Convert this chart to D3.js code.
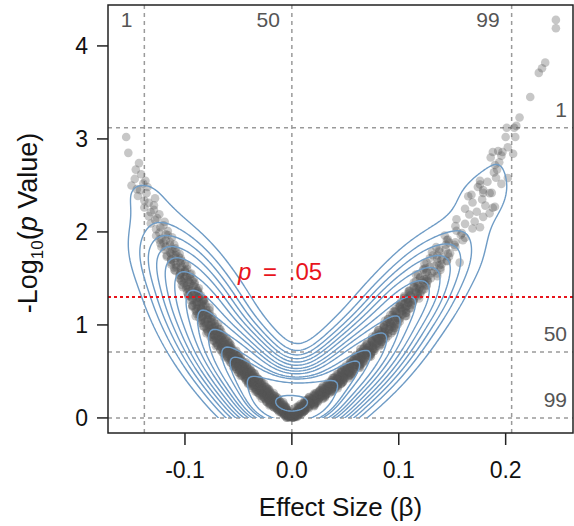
<!DOCTYPE html>
<html><head><meta charset="utf-8">
<script src="https://cdn.jsdelivr.net/npm/d3@7"></script>
<style>body{margin:0;background:#fff}svg{display:block}text{font-family:"Liberation Sans",Arial,Helvetica,sans-serif}</style>
</head><body><svg id="c" width="574" height="526"></svg>
<script>
// ---- data (effect size beta, -log10 p) ----
const xTicks = [-0.1, 0.0, 0.1, 0.2];
const xTickLabels = ["-0.1", "0.0", "0.1", "0.2"];
const yTicks = [0, 1, 2, 3, 4];
const pctX = [{v: -0.138, label: "1"}, {v: 0.0, label: "50"}, {v: 0.2056, label: "99"}];
const pctY = [{v: 3.12, label: "1"}, {v: 0.71, label: "50"}, {v: 0.0, label: "99"}];
const pThreshold = 1.301; // -log10(.05)
// tip of each density contour on the left branch (beta, -log10 p)
const contourTipsLeft = [[-0.141,2.50],[-0.126,2.10],[-0.120,1.96],[-0.116,1.84],[-0.110,1.72],[-0.103,1.57],[-0.094,1.37],[-0.084,1.16],[-0.074,0.95],[-0.062,0.76],[-0.055,0.65],[-0.039,0.44],[-0.015,0.16]];

const leftArm = [
[-0.005,0.002],[0.001,0.006],[-0.002,0.010],[0.003,0.014],[-0.004,0.018],[-0.002,0.022],[0.000,0.026],[-0.007,0.030],[0.001,0.034],[-0.004,0.038],[-0.003,0.042],[-0.008,0.046],[-0.002,0.050],[-0.007,0.054],[-0.005,0.058],[-0.010,0.062],[-0.004,0.066],[-0.007,0.070],[-0.009,0.074],[-0.003,0.078],[-0.013,0.082],[-0.007,0.086],[-0.010,0.090],[-0.005,0.094],
[-0.014,0.102],[-0.010,0.107],[-0.006,0.111],[-0.017,0.116],[-0.005,0.120],[-0.013,0.125],[-0.011,0.129],[-0.018,0.134],[-0.007,0.138],[-0.016,0.143],[-0.012,0.147],[-0.021,0.152],[-0.011,0.156],[-0.015,0.161],[-0.019,0.165],[-0.008,0.170],[-0.024,0.174],[-0.014,0.179],[-0.019,0.183],[-0.012,0.188],[-0.022,0.192],[-0.018,0.197],
[-0.014,0.202],[-0.025,0.207],[-0.013,0.212],[-0.021,0.217],[-0.019,0.222],[-0.026,0.227],[-0.016,0.232],[-0.024,0.237],[-0.021,0.242],[-0.029,0.247],[-0.019,0.252],[-0.024,0.257],[-0.027,0.262],[-0.017,0.267],[-0.032,0.272],[-0.023,0.277],[-0.028,0.282],[-0.021,0.287],[-0.031,0.292],[-0.027,0.297],
[-0.023,0.302],[-0.034,0.307],[-0.022,0.313],[-0.030,0.318],[-0.028,0.323],[-0.035,0.328],[-0.025,0.334],[-0.033,0.339],[-0.030,0.344],[-0.038,0.349],[-0.028,0.355],[-0.033,0.360],[-0.036,0.365],[-0.026,0.370],[-0.041,0.376],[-0.032,0.381],[-0.037,0.386],[-0.029,0.391],[-0.040,0.397],
[-0.035,0.403],[-0.031,0.408],[-0.043,0.414],[-0.031,0.419],[-0.039,0.425],[-0.036,0.431],[-0.044,0.436],[-0.033,0.442],[-0.042,0.447],[-0.038,0.453],[-0.047,0.458],[-0.037,0.464],[-0.042,0.469],[-0.045,0.475],[-0.035,0.481],[-0.050,0.486],[-0.040,0.492],[-0.046,0.497],
[-0.038,0.503],[-0.049,0.509],[-0.044,0.515],[-0.040,0.521],[-0.052,0.527],[-0.039,0.532],[-0.048,0.538],[-0.045,0.544],[-0.053,0.550],[-0.042,0.556],[-0.050,0.562],[-0.047,0.568],[-0.055,0.574],[-0.046,0.579],[-0.050,0.585],[-0.054,0.591],[-0.043,0.597],
[-0.058,0.603],[-0.049,0.609],[-0.054,0.616],[-0.047,0.622],[-0.057,0.628],[-0.052,0.634],[-0.049,0.641],[-0.060,0.647],[-0.048,0.653],[-0.056,0.659],[-0.054,0.666],[-0.061,0.672],[-0.050,0.678],[-0.059,0.684],[-0.055,0.691],[-0.064,0.697],
[-0.054,0.703],[-0.059,0.710],[-0.062,0.717],[-0.052,0.723],[-0.067,0.730],[-0.058,0.737],[-0.063,0.743],[-0.056,0.750],[-0.066,0.757],[-0.061,0.763],[-0.058,0.770],[-0.069,0.777],[-0.057,0.783],[-0.065,0.790],[-0.063,0.797],
[-0.070,0.804],[-0.059,0.811],[-0.068,0.818],[-0.064,0.825],[-0.073,0.832],[-0.063,0.839],[-0.068,0.846],[-0.071,0.854],[-0.061,0.861],[-0.076,0.868],[-0.067,0.875],[-0.072,0.882],[-0.064,0.889],[-0.075,0.896],
[-0.070,0.904],[-0.067,0.912],[-0.078,0.919],[-0.066,0.927],[-0.074,0.935],[-0.072,0.942],[-0.079,0.950],[-0.068,0.958],[-0.077,0.965],[-0.073,0.973],[-0.082,0.981],[-0.072,0.988],[-0.077,0.996],
[-0.080,1.004],[-0.069,1.013],[-0.085,1.021],[-0.075,1.029],[-0.081,1.038],[-0.073,1.046],[-0.084,1.054],[-0.079,1.063],[-0.076,1.071],[-0.087,1.079],[-0.074,1.088],[-0.083,1.096],
[-0.080,1.105],[-0.087,1.114],[-0.077,1.123],[-0.085,1.132],[-0.082,1.141],[-0.090,1.150],[-0.080,1.159],[-0.085,1.168],[-0.088,1.177],[-0.077,1.186],[-0.093,1.195],
[-0.083,1.205],[-0.089,1.215],[-0.081,1.225],[-0.091,1.235],[-0.087,1.245],[-0.083,1.255],[-0.095,1.265],[-0.082,1.275],[-0.090,1.285],[-0.088,1.295],
[-0.095,1.306],[-0.085,1.317],[-0.093,1.328],[-0.090,1.339],[-0.098,1.350],[-0.089,1.361],[-0.093,1.372],[-0.097,1.383],[-0.087,1.394],
[-0.102,1.406],[-0.092,1.417],[-0.098,1.428],[-0.091,1.439],[-0.101,1.450],[-0.096,1.461],[-0.093,1.472],[-0.104,1.483],[-0.092,1.494],
[-0.100,1.506],[-0.098,1.519],[-0.105,1.531],[-0.095,1.544],[-0.104,1.556],[-0.100,1.569],[-0.109,1.581],[-0.100,1.594],
[-0.104,1.607],[-0.108,1.621],[-0.098,1.636],[-0.113,1.650],[-0.104,1.664],[-0.110,1.679],[-0.103,1.693],
[-0.113,1.707],[-0.109,1.721],[-0.106,1.736],[-0.117,1.750],[-0.105,1.764],[-0.114,1.779],[-0.112,1.793],
[-0.119,1.808],[-0.109,1.825],[-0.118,1.842],[-0.114,1.858],[-0.123,1.875],[-0.114,1.892],
[-0.118,1.908],[-0.122,1.925],[-0.112,1.942],[-0.127,1.958],[-0.118,1.975],[-0.124,1.992],
[-0.116,2.010],[-0.127,2.030],[-0.123,2.050],[-0.120,2.070],[-0.132,2.090],
[-0.119,2.110],[-0.128,2.130],[-0.126,2.150],[-0.134,2.170],[-0.124,2.190],
[-0.132,2.212],[-0.129,2.237],[-0.138,2.262],[-0.129,2.287],
[-0.134,2.312],[-0.138,2.337],[-0.128,2.362],[-0.144,2.387],
[-0.136,2.417],[-0.142,2.450],[-0.135,2.483]
];
// heavily overlapping points of the dark band, left side
const leftArmDense = [
[0.002,0.002],[-0.005,0.005],[0.000,0.008],[-0.002,0.012],[0.002,0.015],[-0.005,0.018],[-0.002,0.022],[0.001,0.025],[-0.007,0.028],[-0.002,0.032],[-0.005,0.035],[0.000,0.038],[-0.007,0.042],[-0.003,0.045],[-0.009,0.048],[-0.004,0.052],[-0.003,0.055],[-0.007,0.058],[-0.008,0.062],[-0.012,0.065],[-0.004,0.068],[-0.011,0.072],[-0.007,0.075],[-0.009,0.078],[-0.004,0.082],[-0.012,0.085],[-0.009,0.088],[-0.005,0.092],[-0.014,0.095],[-0.009,0.098],
[-0.011,0.102],[-0.005,0.106],[-0.015,0.109],[-0.008,0.113],[-0.017,0.116],[-0.011,0.120],[-0.007,0.124],[-0.014,0.127],[-0.016,0.131],[-0.021,0.134],[-0.009,0.138],[-0.020,0.142],[-0.012,0.145],[-0.016,0.149],[-0.008,0.152],[-0.020,0.156],[-0.015,0.160],[-0.010,0.163],[-0.023,0.167],[-0.014,0.170],[-0.018,0.174],[-0.011,0.178],[-0.021,0.181],[-0.015,0.185],[-0.024,0.188],[-0.017,0.192],[-0.014,0.196],[-0.021,0.199],
[-0.022,0.202],[-0.028,0.206],[-0.016,0.210],[-0.026,0.214],[-0.019,0.217],[-0.023,0.221],[-0.014,0.225],[-0.027,0.229],[-0.022,0.233],[-0.016,0.237],[-0.030,0.240],[-0.021,0.244],[-0.024,0.248],[-0.018,0.252],[-0.028,0.256],[-0.021,0.260],[-0.031,0.264],[-0.024,0.267],[-0.020,0.271],[-0.028,0.275],[-0.029,0.279],[-0.034,0.283],[-0.023,0.287],[-0.033,0.290],[-0.025,0.294],[-0.030,0.298],
[-0.021,0.302],[-0.033,0.306],[-0.029,0.310],[-0.023,0.315],[-0.037,0.319],[-0.028,0.323],[-0.031,0.327],[-0.024,0.331],[-0.035,0.336],[-0.028,0.340],[-0.038,0.344],[-0.031,0.348],[-0.027,0.352],[-0.035,0.357],[-0.036,0.361],[-0.041,0.365],[-0.030,0.369],[-0.040,0.373],[-0.032,0.378],[-0.037,0.382],[-0.028,0.386],[-0.040,0.390],[-0.036,0.394],[-0.030,0.399],
[-0.043,0.402],[-0.035,0.407],[-0.038,0.411],[-0.031,0.416],[-0.042,0.420],[-0.035,0.425],[-0.044,0.429],[-0.038,0.434],[-0.034,0.438],[-0.041,0.443],[-0.043,0.447],[-0.048,0.452],[-0.036,0.456],[-0.047,0.461],[-0.039,0.465],[-0.044,0.470],[-0.035,0.474],[-0.047,0.479],[-0.043,0.483],[-0.037,0.488],[-0.050,0.492],[-0.042,0.497],
[-0.045,0.502],[-0.038,0.507],[-0.049,0.512],[-0.042,0.517],[-0.052,0.522],[-0.045,0.527],[-0.041,0.532],[-0.049,0.537],[-0.050,0.542],[-0.055,0.547],[-0.044,0.552],[-0.054,0.557],[-0.046,0.562],[-0.051,0.567],[-0.042,0.572],[-0.054,0.577],[-0.050,0.582],[-0.044,0.587],[-0.057,0.592],[-0.049,0.597],
[-0.052,0.603],[-0.046,0.608],[-0.056,0.614],[-0.049,0.620],[-0.059,0.625],[-0.052,0.631],[-0.049,0.636],[-0.056,0.642],[-0.057,0.648],[-0.063,0.653],[-0.051,0.659],[-0.061,0.664],[-0.054,0.670],[-0.058,0.676],[-0.050,0.681],[-0.062,0.687],[-0.057,0.692],[-0.052,0.698],
[-0.065,0.703],[-0.057,0.709],[-0.060,0.716],[-0.054,0.722],[-0.064,0.728],[-0.057,0.734],[-0.067,0.741],[-0.060,0.747],[-0.057,0.753],[-0.064,0.759],[-0.066,0.766],[-0.071,0.772],[-0.059,0.778],[-0.070,0.784],[-0.062,0.791],[-0.067,0.797],
[-0.058,0.803],[-0.071,0.810],[-0.066,0.817],[-0.060,0.824],[-0.074,0.831],[-0.065,0.838],[-0.069,0.846],[-0.062,0.853],[-0.073,0.860],[-0.066,0.867],[-0.075,0.874],[-0.069,0.881],[-0.065,0.888],[-0.073,0.895],
[-0.074,0.904],[-0.080,0.912],[-0.068,0.921],[-0.079,0.929],[-0.071,0.937],[-0.076,0.946],[-0.067,0.954],[-0.080,0.962],[-0.075,0.971],[-0.070,0.979],[-0.083,0.987],[-0.075,0.996],
[-0.078,1.005],[-0.072,1.015],[-0.082,1.025],[-0.076,1.035],[-0.085,1.045],[-0.079,1.055],[-0.075,1.065],[-0.083,1.075],[-0.084,1.085],[-0.090,1.095],
[-0.078,1.106],[-0.089,1.119],[-0.081,1.131],[-0.086,1.144],[-0.077,1.156],[-0.090,1.169],[-0.085,1.181],[-0.080,1.194],
[-0.093,1.208],[-0.085,1.225],[-0.089,1.242],[-0.082,1.258],[-0.093,1.275],[-0.087,1.292],
[-0.097,1.312],[-0.091,1.337],[-0.088,1.362],[-0.096,1.387],
[-0.078,1.113],[-0.089,1.147],[-0.085,1.180],
[-0.093,1.210],[-0.084,1.230],[-0.089,1.250],[-0.083,1.270],[-0.093,1.290],
[-0.087,1.308],[-0.097,1.325],[-0.087,1.342],[-0.095,1.358],[-0.088,1.375],[-0.099,1.392],
[-0.090,1.406],[-0.099,1.419],[-0.103,1.431],[-0.095,1.444],[-0.091,1.456],[-0.103,1.469],[-0.097,1.481],[-0.101,1.494],
[-0.105,1.503],[-0.095,1.516],[-0.099,1.528],[-0.105,1.541],[-0.094,1.553],[-0.104,1.566],[-0.100,1.578],[-0.110,1.591],
[-0.098,1.600],[-0.110,1.615],[-0.103,1.629],[-0.108,1.643],[-0.100,1.658],[-0.113,1.672],[-0.105,1.686],
[-0.113,1.700],[-0.104,1.717],[-0.117,1.733],[-0.109,1.750],[-0.113,1.767],[-0.108,1.783],
[-0.111,1.813],[-0.122,1.838],[-0.110,1.863],[-0.120,1.888],
[-0.124,1.917],[-0.116,1.967]
];
const leftOutliers = [
[-0.155,3.02],[-0.153,2.85],[-0.143,2.74],[-0.146,2.67],[-0.147,2.57],[-0.137,2.55],[-0.141,2.62],[-0.150,2.50],[-0.145,2.46],[-0.139,2.52]
];
const rightArm = [
[0.001,0.004],[-0.002,0.008],[0.004,0.012],[0.001,0.016],[0.003,0.020],[-0.002,0.024],[0.005,0.028],[0.003,0.032],[0.002,0.036],[0.009,0.040],[0.000,0.044],[0.007,0.048],[0.004,0.052],[0.010,0.056],[0.004,0.060],[0.006,0.064],[0.010,0.068],[0.004,0.072],[0.012,0.076],[0.008,0.080],[0.009,0.084],[0.006,0.088],[0.012,0.092],[0.009,0.096],
[0.012,0.104],[0.005,0.109],[0.015,0.113],[0.012,0.118],[0.009,0.122],[0.021,0.127],[0.006,0.131],[0.017,0.136],[0.012,0.140],[0.021,0.145],[0.011,0.149],[0.017,0.154],[0.021,0.158],[0.011,0.163],[0.024,0.167],[0.017,0.172],[0.020,0.176],[0.014,0.181],[0.025,0.185],[0.018,0.190],[0.022,0.194],[0.015,0.199],
[0.025,0.204],[0.022,0.209],[0.019,0.214],[0.031,0.219],[0.016,0.224],[0.027,0.229],[0.023,0.234],[0.031,0.239],[0.022,0.244],[0.027,0.249],[0.032,0.254],[0.022,0.259],[0.035,0.264],[0.028,0.269],[0.031,0.274],[0.025,0.279],[0.037,0.284],[0.029,0.289],[0.034,0.294],[0.027,0.299],
[0.037,0.304],[0.033,0.309],[0.031,0.314],[0.043,0.320],[0.028,0.325],[0.039,0.330],[0.034,0.336],[0.043,0.341],[0.033,0.346],[0.039,0.351],[0.043,0.357],[0.033,0.362],[0.046,0.367],[0.039,0.372],[0.043,0.378],[0.036,0.383],[0.048,0.388],[0.040,0.393],[0.045,0.399],
[0.037,0.404],[0.048,0.410],[0.044,0.415],[0.042,0.421],[0.053,0.426],[0.039,0.432],[0.049,0.438],[0.045,0.443],[0.053,0.449],[0.044,0.454],[0.049,0.460],[0.054,0.465],[0.043,0.471],[0.057,0.476],[0.049,0.482],[0.053,0.487],[0.046,0.493],[0.058,0.499],
[0.050,0.504],[0.055,0.510],[0.047,0.516],[0.058,0.522],[0.054,0.528],[0.052,0.534],[0.064,0.540],[0.049,0.545],[0.060,0.551],[0.055,0.557],[0.064,0.563],[0.054,0.569],[0.060,0.575],[0.064,0.581],[0.054,0.587],[0.067,0.593],[0.060,0.598],
[0.063,0.604],[0.057,0.610],[0.068,0.616],[0.061,0.623],[0.065,0.629],[0.058,0.635],[0.068,0.641],[0.065,0.648],[0.062,0.654],[0.074,0.660],[0.059,0.666],[0.070,0.673],[0.065,0.679],[0.074,0.685],[0.064,0.691],[0.070,0.698],
[0.074,0.704],[0.064,0.711],[0.077,0.717],[0.070,0.724],[0.073,0.731],[0.067,0.737],[0.078,0.744],[0.071,0.751],[0.076,0.757],[0.068,0.764],[0.079,0.771],[0.075,0.777],[0.073,0.784],[0.084,0.791],[0.070,0.797],
[0.080,0.804],[0.076,0.811],[0.084,0.818],[0.075,0.825],[0.081,0.832],[0.085,0.839],[0.075,0.846],[0.088,0.854],[0.081,0.861],[0.084,0.868],[0.078,0.875],[0.090,0.882],[0.082,0.889],[0.087,0.896],
[0.079,0.904],[0.090,0.912],[0.086,0.919],[0.084,0.927],[0.095,0.935],[0.081,0.942],[0.091,0.950],[0.087,0.958],[0.096,0.965],[0.086,0.973],[0.092,0.981],[0.096,0.988],[0.086,0.996],
[0.099,1.004],[0.092,1.013],[0.095,1.021],[0.089,1.029],[0.101,1.038],[0.093,1.046],[0.098,1.054],[0.090,1.063],[0.101,1.071],[0.098,1.079],[0.095,1.088],[0.107,1.096],
[0.092,1.105],[0.103,1.114],[0.098,1.123],[0.107,1.132],[0.097,1.141],[0.103,1.150],[0.107,1.159],[0.097,1.168],[0.111,1.177],[0.103,1.186],[0.107,1.195],
[0.100,1.205],[0.112,1.215],[0.105,1.225],[0.109,1.235],[0.102,1.245],[0.113,1.255],[0.109,1.265],[0.107,1.275],[0.119,1.285],[0.105,1.295],
[0.115,1.306],[0.111,1.317],[0.120,1.328],[0.110,1.339],[0.116,1.350],[0.121,1.361],[0.110,1.372],[0.124,1.383],[0.117,1.394],
[0.120,1.406],[0.114,1.419],[0.126,1.431],[0.119,1.444],[0.123,1.456],[0.116,1.469],[0.127,1.481],[0.124,1.494],
[0.120,1.508],[0.136,1.525],[0.116,1.542],[0.131,1.558],[0.126,1.575],[0.139,1.592],
[0.125,1.610],[0.133,1.630],[0.140,1.650],[0.126,1.670],[0.145,1.690],
[0.136,1.710],[0.141,1.730],[0.132,1.750],[0.148,1.770],[0.138,1.790],
[0.144,1.812],[0.135,1.837],[0.152,1.862],[0.147,1.887],
[0.145,1.912],[0.162,1.937],[0.143,1.962],[0.159,1.987],
[0.154,2.012],[0.169,2.037],[0.153,2.062],[0.162,2.087],
[0.171,2.112],[0.154,2.137],[0.179,2.162],[0.166,2.187],
[0.173,2.217],[0.162,2.250],[0.181,2.283],
[0.169,2.317],[0.178,2.350],[0.165,2.383],
[0.185,2.417],[0.179,2.450],[0.174,2.483],
[0.196,2.517],[0.176,2.550],[0.191,2.583],
[0.188,2.86],[0.193,2.87],[0.194,2.75],[0.192,2.67],[0.186,2.80],[0.196,2.82],[0.190,2.72],[0.197,2.86],[0.189,2.64]
];
// heavily overlapping points of the dark band, right side
const rightArmDense = [
[-0.003,0.003],[0.001,0.006],[0.005,0.010],[-0.003,0.013],[0.003,0.016],[0.001,0.020],[0.006,0.023],[0.000,0.026],[0.005,0.030],[-0.001,0.033],[0.005,0.036],[0.007,0.039],[0.003,0.043],[0.003,0.046],[0.000,0.049],[0.008,0.053],[0.002,0.056],[0.007,0.059],[0.005,0.063],[0.011,0.066],[0.004,0.069],[0.007,0.072],[0.012,0.076],[0.004,0.079],[0.009,0.082],[0.008,0.086],[0.013,0.089],[0.007,0.092],[0.012,0.096],[0.006,0.099],
[0.011,0.101],[0.016,0.105],[0.009,0.108],[0.008,0.112],[0.004,0.115],[0.016,0.119],[0.007,0.123],[0.015,0.126],[0.011,0.130],[0.021,0.133],[0.009,0.137],[0.015,0.141],[0.021,0.144],[0.008,0.148],[0.018,0.151],[0.015,0.155],[0.022,0.159],[0.013,0.162],[0.020,0.166],[0.012,0.169],[0.019,0.173],[0.023,0.177],[0.017,0.180],[0.016,0.184],[0.012,0.187],[0.024,0.191],[0.014,0.195],[0.023,0.198],
[0.019,0.201],[0.029,0.205],[0.017,0.209],[0.023,0.213],[0.029,0.216],[0.016,0.220],[0.026,0.224],[0.023,0.228],[0.031,0.232],[0.021,0.236],[0.029,0.239],[0.020,0.243],[0.028,0.247],[0.032,0.251],[0.026,0.255],[0.025,0.259],[0.021,0.263],[0.033,0.266],[0.023,0.270],[0.032,0.274],[0.028,0.278],[0.038,0.282],[0.026,0.286],[0.032,0.289],[0.038,0.293],[0.026,0.297],
[0.035,0.301],[0.033,0.305],[0.040,0.309],[0.030,0.314],[0.038,0.318],[0.029,0.322],[0.037,0.326],[0.041,0.330],[0.035,0.335],[0.034,0.339],[0.029,0.343],[0.042,0.347],[0.032,0.351],[0.041,0.356],[0.037,0.360],[0.046,0.364],[0.035,0.368],[0.040,0.372],[0.047,0.377],[0.034,0.381],[0.044,0.385],[0.041,0.389],[0.048,0.393],[0.039,0.398],
[0.046,0.401],[0.038,0.406],[0.045,0.410],[0.049,0.415],[0.043,0.419],[0.042,0.424],[0.038,0.428],[0.050,0.433],[0.040,0.437],[0.049,0.442],[0.045,0.446],[0.055,0.451],[0.043,0.455],[0.048,0.460],[0.055,0.464],[0.042,0.469],[0.052,0.473],[0.049,0.478],[0.056,0.482],[0.047,0.487],[0.054,0.491],[0.046,0.496],
[0.053,0.501],[0.058,0.506],[0.051,0.511],[0.050,0.516],[0.046,0.521],[0.058,0.526],[0.049,0.531],[0.057,0.536],[0.054,0.541],[0.063,0.546],[0.052,0.551],[0.057,0.556],[0.063,0.561],[0.051,0.566],[0.060,0.571],[0.058,0.576],[0.065,0.581],[0.056,0.586],[0.063,0.591],[0.055,0.596],
[0.062,0.602],[0.067,0.608],[0.060,0.613],[0.060,0.619],[0.055,0.624],[0.067,0.630],[0.058,0.636],[0.066,0.641],[0.063,0.647],[0.072,0.652],[0.061,0.658],[0.066,0.664],[0.073,0.669],[0.060,0.675],[0.069,0.680],[0.067,0.686],[0.074,0.692],[0.065,0.697],
[0.072,0.702],[0.064,0.708],[0.071,0.715],[0.076,0.721],[0.069,0.727],[0.069,0.733],[0.064,0.740],[0.077,0.746],[0.067,0.752],[0.076,0.758],[0.072,0.765],[0.082,0.771],[0.070,0.777],[0.076,0.783],[0.082,0.790],[0.070,0.796],
[0.079,0.802],[0.077,0.809],[0.084,0.816],[0.075,0.823],[0.082,0.830],[0.074,0.838],[0.082,0.845],[0.086,0.852],[0.080,0.859],[0.079,0.866],[0.075,0.873],[0.087,0.880],[0.078,0.887],[0.086,0.894],
[0.083,0.903],[0.093,0.911],[0.081,0.920],[0.087,0.928],[0.094,0.936],[0.081,0.945],[0.091,0.953],[0.088,0.961],[0.096,0.970],[0.086,0.978],[0.094,0.986],[0.086,0.995],
[0.093,1.004],[0.098,1.014],[0.092,1.024],[0.091,1.034],[0.087,1.044],[0.100,1.054],[0.090,1.064],[0.099,1.074],[0.096,1.084],[0.106,1.094],
[0.094,1.105],[0.100,1.118],[0.107,1.130],[0.095,1.143],[0.104,1.155],[0.102,1.168],[0.110,1.180],[0.101,1.193],
[0.108,1.207],[0.101,1.224],[0.109,1.240],[0.114,1.257],[0.108,1.274],[0.108,1.290],
[0.105,1.311],[0.118,1.336],[0.110,1.361],[0.119,1.386],
[0.104,1.113],[0.096,1.147],[0.106,1.180],
[0.101,1.210],[0.113,1.230],[0.106,1.250],[0.114,1.270],[0.105,1.290],
[0.118,1.308],[0.111,1.325],[0.117,1.342],[0.109,1.358],[0.122,1.375],[0.116,1.392],
[0.114,1.406],[0.126,1.419],[0.118,1.431],[0.124,1.444],[0.114,1.456],[0.127,1.469],[0.122,1.481],[0.126,1.494],
[0.130,1.503],[0.120,1.516],[0.128,1.528],[0.118,1.541],[0.136,1.553],[0.126,1.566],[0.133,1.578],[0.123,1.591],
[0.123,1.600],[0.139,1.615],[0.129,1.629],[0.138,1.643],[0.124,1.658],[0.136,1.672],[0.145,1.686],
[0.140,1.700],[0.129,1.717],[0.147,1.733],[0.136,1.750],[0.146,1.767],[0.131,1.783],
[0.138,1.813],[0.153,1.838],[0.144,1.863],[0.153,1.888],
[0.146,1.917],[0.158,1.967]
];
const rightOutliers = [
[0.247,4.28],[0.247,4.19],[0.237,3.82],[0.234,3.76],[0.231,3.71],[0.223,3.45],[0.213,3.23],[0.210,3.14],[0.208,3.12],[0.201,3.12],[0.209,3.02],[0.200,3.02],[0.207,2.84],[0.202,2.58],[0.202,2.91],[0.183,2.54],[0.176,2.51],[0.168,2.40],[0.179,2.42],[0.187,2.42],[0.188,2.26],[0.185,2.20],[0.190,2.27],[0.176,2.05],[0.157,1.67],[0.160,1.91]
];

// ---- layout ----
const X0 = 108, X1 = 573, Y0 = 5, Y1 = 433;
const svg = d3.select("#c");
const x = d3.scaleLinear().domain([-0.172, 0.263]).range([X0, X1]);
const y = d3.scaleLinear().domain([-0.162, 4.44]).range([Y1, Y0]);
const gray = "#9a9a9a", red = "#e8141c", blue = "#6f9cc6";

const defs = svg.append("defs");
defs.append("clipPath").attr("id", "plotClip").append("rect")
  .attr("x", X0).attr("y", Y0).attr("width", X1 - X0).attr("height", Y1 - Y0);
defs.append("clipPath").attr("id", "contClip").append("rect")
  .attr("x", X0).attr("y", Y0).attr("width", X1 - X0).attr("height", y(0) - Y0);

// percentile reference lines
const ref = svg.append("g").attr("stroke", gray).attr("stroke-width", 1.5).attr("stroke-dasharray", "4,4");
ref.selectAll(".vl").data(pctX).join("line").attr("class", "vl")
  .attr("x1", d => x(d.v)).attr("x2", d => x(d.v)).attr("y1", Y0).attr("y2", Y1);
ref.selectAll(".hl").data(pctY).join("line").attr("class", "hl")
  .attr("x1", X0).attr("x2", X1).attr("y1", d => y(d.v)).attr("y2", d => y(d.v));

// points
const pts = leftArm.concat(leftArmDense, leftOutliers, rightArm, rightArmDense, rightOutliers);
svg.append("g").attr("clip-path", "url(#plotClip)").selectAll("circle").data(pts).join("circle")
  .attr("cx", d => x(d[0])).attr("cy", d => y(d[1])).attr("r", 4.3)
  .attr("fill", "#555").attr("fill-opacity", 0.33);

// 2-D kernel density of the points (separate x / y bandwidths) -> contours
const cell = 2, gx0 = 100, gy0 = 0, nx = 240, ny = 222, sx = 28, sy = 15;
const P = pts.map(d => [x(d[0]), y(d[1])]);
const grid = new Float64Array(nx * ny);
const RX = Math.ceil(4 * sx / cell), RY = Math.ceil(4 * sy / cell);
P.forEach(([px, py]) => {
  const ic = Math.floor((px - gx0) / cell), jc = Math.floor((py - gy0) / cell);
  for (let j = Math.max(0, jc - RY); j <= Math.min(ny - 1, jc + RY); j++) {
    const dy = (gy0 + (j + 0.5) * cell - py) / sy, ey = Math.exp(-0.5 * dy * dy);
    for (let i = Math.max(0, ic - RX); i <= Math.min(nx - 1, ic + RX); i++) {
      const dx = (gx0 + (i + 0.5) * cell - px) / sx;
      grid[j * nx + i] += ey * Math.exp(-0.5 * dx * dx);
    }
  }
});
const kdeAt = (qx, qy) => d3.sum(P, ([a, b]) => {
  const dx = (qx - a) / sx, dy = (qy - b) / sy;
  return (Math.abs(dx) <= 4 && Math.abs(dy) <= 4) ? Math.exp(-0.5 * (dx * dx + dy * dy)) : 0;
});
const levels = contourTipsLeft.map(t => kdeAt(x(t[0]), y(t[1]))).sort((a, b) => a - b);
const cs = d3.contours().size([nx, ny]).thresholds(levels)(grid);
const gp = d3.geoPath(d3.geoIdentity().scale(cell).translate([gx0, gy0]));
svg.append("g").attr("clip-path", "url(#contClip)").selectAll("path").data(cs).join("path")
  .attr("d", gp).attr("fill", "none").attr("stroke", blue).attr("stroke-width", 1.4);

// p = .05 line
svg.append("line").attr("x1", X0).attr("x2", X1).attr("y1", y(pThreshold)).attr("y2", y(pThreshold))
  .attr("stroke", red).attr("stroke-width", 2).attr("stroke-dasharray", "3,3");
const pt = svg.append("text").attr("x", 238).attr("y", y(pThreshold) - 17).attr("fill", red)
  .attr("font-size", 24).attr("word-spacing", 5);
pt.append("tspan").attr("font-style", "italic").text("p");
pt.append("tspan").text(" = .05");

// percentile labels
svg.selectAll(".pxl").data(pctX).join("text").attr("class", "pxl")
  .attr("x", d => x(d.v) - 12).attr("y", 27).attr("text-anchor", "end")
  .attr("font-size", 21).attr("fill", "#555").text(d => d.label);
svg.selectAll(".pyl").data(pctY).join("text").attr("class", "pyl")
  .attr("x", 567).attr("y", d => y(d.v) - 11).attr("text-anchor", "end")
  .attr("font-size", 21).attr("fill", "#555").text(d => d.label);

// frame
svg.append("rect").attr("x", X0).attr("y", Y0).attr("width", X1 - X0).attr("height", Y1 - Y0)
  .attr("fill", "none").attr("stroke", "#222").attr("stroke-width", 1.5);

// axes
const xa = svg.append("g");
xa.selectAll("line").data(xTicks).join("line")
  .attr("x1", d => x(d)).attr("x2", d => x(d)).attr("y1", Y1).attr("y2", Y1 + 12)
  .attr("stroke", "#222").attr("stroke-width", 1.5);
xa.selectAll("text").data(xTicks).join("text")
  .attr("x", d => x(d)).attr("y", 478).attr("text-anchor", "middle").attr("font-size", 23).attr("fill", "#111")
  .text((d, i) => xTickLabels[i]);
const ya = svg.append("g");
ya.selectAll("line").data(yTicks).join("line")
  .attr("x1", X0 - 11).attr("x2", X0).attr("y1", d => y(d)).attr("y2", d => y(d))
  .attr("stroke", "#222").attr("stroke-width", 1.5);
ya.selectAll("text").data(yTicks).join("text")
  .attr("x", 88).attr("y", d => y(d) + 8).attr("text-anchor", "end").attr("font-size", 23).attr("fill", "#111")
  .text(d => d);

svg.append("text").attr("x", (X0 + X1) / 2).attr("y", 516).attr("text-anchor", "middle")
  .attr("font-size", 26).attr("fill", "#111").text("Effect Size (β)");
const yt = svg.append("text").attr("transform", "translate(37," + ((Y0 + Y1) / 2 + 4) + ") rotate(-90)")
  .attr("text-anchor", "middle").attr("font-size", 27).attr("fill", "#111");
yt.append("tspan").text("-Log");
yt.append("tspan").attr("font-size", 17).attr("dy", 6).text("10");
yt.append("tspan").attr("dy", -6).text("(");
yt.append("tspan").attr("font-style", "italic").text("p");
yt.append("tspan").text(" Value)");
</script></body></html>
